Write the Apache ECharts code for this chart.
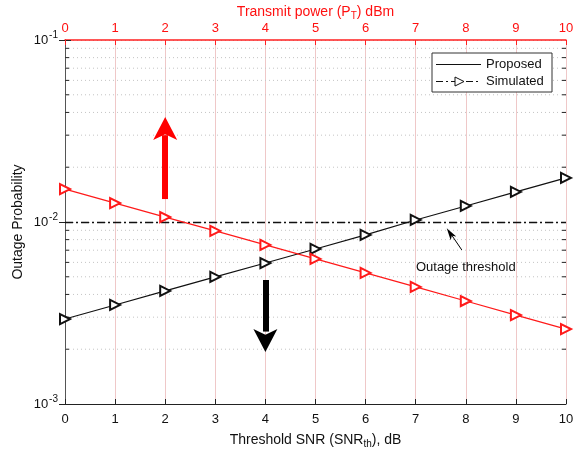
<!DOCTYPE html>
<html>
<head>
<meta charset="utf-8">
<script src="https://cdn.jsdelivr.net/npm/echarts/dist/echarts.min.js"></script>
<style>
html,body{margin:0;padding:0;background:#fff}
#container{width:575px;height:455px}
</style>
</head>
<body>
<div id="container"></div>
<script>
let snrTicks=[0,1,2,3,4,5,6,7,8,9,10];
let powerTicks=[0,1,2,3,4,5,6,7,8,9,10];
let outageVsSnr=[0.00293,0.00350,0.00418,0.00499,0.00595,0.00711,0.00849,0.01026,0.01225,0.01463,0.01746];
let outageVsPower=[0.01517,0.01270,0.01064,0.00893,0.00748,0.00627,0.00525,0.00440,0.00368,0.00308,0.00258];
let threshold=0.01;
let minorTicks=[0.002,0.003,0.004,0.005,0.006,0.007,0.008,0.009,0.02,0.03,0.04,0.05,0.06,0.07,0.08,0.09];

let font='"Liberation Sans", Arial, sans-serif';

let dom=document.getElementById("container");
let chart=echarts.init(dom);

function supLabel(v){
    let e=Math.round(Math.log10(v));
    return '10{sup|'+e+'}';
}

chart.setOption({
    animation:false,
    textStyle:{fontFamily:font},
    grid:{left:65,right:9,top:40,bottom:51,containLabel:false,outerBoundsMode:'none'},
    xAxis:[{
        type:'value',min:0,max:10,interval:1,position:'bottom',
        name:'Threshold SNR (SNR{sub|th}), dB',nameLocation:'middle',nameGap:27,nameMoveOverlap:false,
        nameTextStyle:{color:'#111',fontSize:14,fontFamily:font,rich:{sub:{fontSize:10,verticalAlign:'bottom',padding:[8,0,0,0]}}},
        axisLine:{lineStyle:{color:'#222',width:1}},
        axisTick:{inside:true,length:5,lineStyle:{color:'#222'}},
        axisLabel:{color:'#111',fontSize:13,margin:9,fontFamily:font},
        splitLine:{show:true,lineStyle:{color:'#efc8c8',width:1}}
    },{
        type:'value',min:0,max:10,interval:1,position:'top',
        name:'Transmit power (P{sub|T}) dBm',nameLocation:'middle',nameGap:19,nameMoveOverlap:false,
        nameTextStyle:{color:'#ff1010',fontSize:14,fontFamily:font,rich:{sub:{fontSize:10,color:'#ff1010',verticalAlign:'bottom',padding:[8,0,0,0]}}},
        axisLine:{lineStyle:{color:'#ff2020',width:1.5}},
        axisTick:{inside:true,length:5,lineStyle:{color:'#ff2020'}},
        axisLabel:{color:'#ff1010',fontSize:13,margin:5,fontFamily:font},
        splitLine:{show:false}
    }],
    yAxis:[{
        type:'log',logBase:10,min:0.001,max:0.1,position:'left',
        name:'Outage Probability',nameLocation:'middle',nameGap:40,nameMoveOverlap:false,
        nameTextStyle:{color:'#111',fontSize:14,fontFamily:font},
        axisLine:{show:true,lineStyle:{color:'#222',width:1}},
        axisTick:{inside:true,length:6,lineStyle:{color:'#222'}},
        axisLabel:{color:'#111',fontSize:13,margin:7,formatter:supLabel,
            rich:{sup:{fontSize:10,verticalAlign:'top',padding:[0,0,9,1]}}},
        splitLine:{show:true,lineStyle:{color:'#c4c4c4',type:[1,3]}}
    },{
        type:'log',logBase:10,min:0.001,max:0.1,position:'right',
        axisLine:{show:true,lineStyle:{color:'#555',width:1}},
        axisTick:{inside:true,length:6,lineStyle:{color:'#222'}},
        axisLabel:{show:false},
        splitLine:{show:false}
    }],
    series:[{
        name:'minor',type:'custom',silent:true,z:1,
        xAxisIndex:0,yAxisIndex:0,
        data:minorTicks.map(v=>[0,v]),
        renderItem:function(params,api){
            let y=api.coord([0,api.value(1)])[1];
            let cs=params.coordSys;
            return {type:'group',children:[
                {type:'line',shape:{x1:cs.x,y1:y,x2:cs.x+cs.width,y2:y},style:{stroke:'#c4c4c4',lineDash:[1,3],lineWidth:1}},
                {type:'line',shape:{x1:cs.x,y1:y,x2:cs.x+4,y2:y},style:{stroke:'#222',lineWidth:1}},
                {type:'line',shape:{x1:cs.x+cs.width-4,y1:y,x2:cs.x+cs.width,y2:y},style:{stroke:'#222',lineWidth:1}}
            ]};
        }
    },{
        name:'Outage vs SNR',type:'line',xAxisIndex:0,yAxisIndex:0,z:5,
        data:snrTicks.map((x,i)=>[x,outageVsSnr[i]]),
        symbol:'emptyTriangle',symbolSize:10,symbolRotate:-90,
        itemStyle:{color:'#111',borderWidth:1},
        lineStyle:{color:'#111',width:1.2},
        markLine:{
            silent:true,symbol:['none','none'],label:{show:false},
            data:[
                [{coord:[0,threshold],lineStyle:{color:'#111',width:1.3,type:[8,3,2,3]}},{coord:[10,threshold]}],
                [{coord:[4,0.00480],lineStyle:{color:'#000',width:6,type:'solid'}},{coord:[4,0.00250]}],
                [{coord:[7.92,0.00702],lineStyle:{color:'#000',width:1,type:'solid'}},{coord:[7.73,0.00838]}]
            ]
        },
        markPoint:{
            silent:true,
            data:[
                {coord:[4,0.00193],symbol:'arrow',symbolSize:[18,23],symbolRotate:180,itemStyle:{color:'#000'},label:{show:false}},
                {coord:[7.62,0.00923],symbol:'arrow',symbolSize:[5,12],symbolRotate:34,itemStyle:{color:'#000'},label:{show:false}},
                {coord:[8.0,0.00561],symbol:'rect',symbolSize:1,itemStyle:{color:'rgba(0,0,0,0)'},
                    label:{show:true,position:'inside',formatter:'Outage threshold',color:'#111',fontSize:13,fontFamily:font}}
            ]
        }
    },{
        name:'Outage vs power',type:'line',xAxisIndex:1,yAxisIndex:0,z:5,
        data:powerTicks.map((x,i)=>[x,outageVsPower[i]]),
        symbol:'emptyTriangle',symbolSize:10,symbolRotate:-90,
        itemStyle:{color:'#ff1a1a',borderWidth:1},
        lineStyle:{color:'#ff1a1a',width:1.2},
        markLine:{
            silent:true,symbol:['none','none'],label:{show:false},
            data:[
                [{coord:[2,0.01337],lineStyle:{color:'#ff0000',width:6,type:'solid'}},{coord:[2,0.0300]}]
            ]
        },
        markPoint:{
            silent:true,
            data:[
                {coord:[2,0.03776],symbol:'arrow',symbolSize:[18,23],itemStyle:{color:'#ff0000'},label:{show:false}}
            ]
        }
    }],
    graphic:[
        {type:'rect',shape:{x:432,y:53,width:120,height:39},style:{fill:'#fff',stroke:'#333',lineWidth:1},z:100},
        {type:'line',shape:{x1:436,y1:64.5,x2:481,y2:64.5},style:{stroke:'#111',lineWidth:1},z:101},
        {type:'text',x:486,y:64.5,style:{text:'Proposed',fill:'#111',font:'13px '+font,textVerticalAlign:'middle'},z:101},
        {type:'line',shape:{x1:436,y1:81.5,x2:481,y2:81.5},style:{stroke:'#111',lineWidth:1,lineDash:[7,3,2,3]},z:101},
        {type:'polygon',shape:{points:[[455,77],[455,86],[464,81.5]]},style:{fill:'#fff',stroke:'#111',lineWidth:1},z:102},
        {type:'text',x:486,y:81.5,style:{text:'Simulated',fill:'#111',font:'13px '+font,textVerticalAlign:'middle'},z:101}
    ]
});
</script>
</body>
</html>
